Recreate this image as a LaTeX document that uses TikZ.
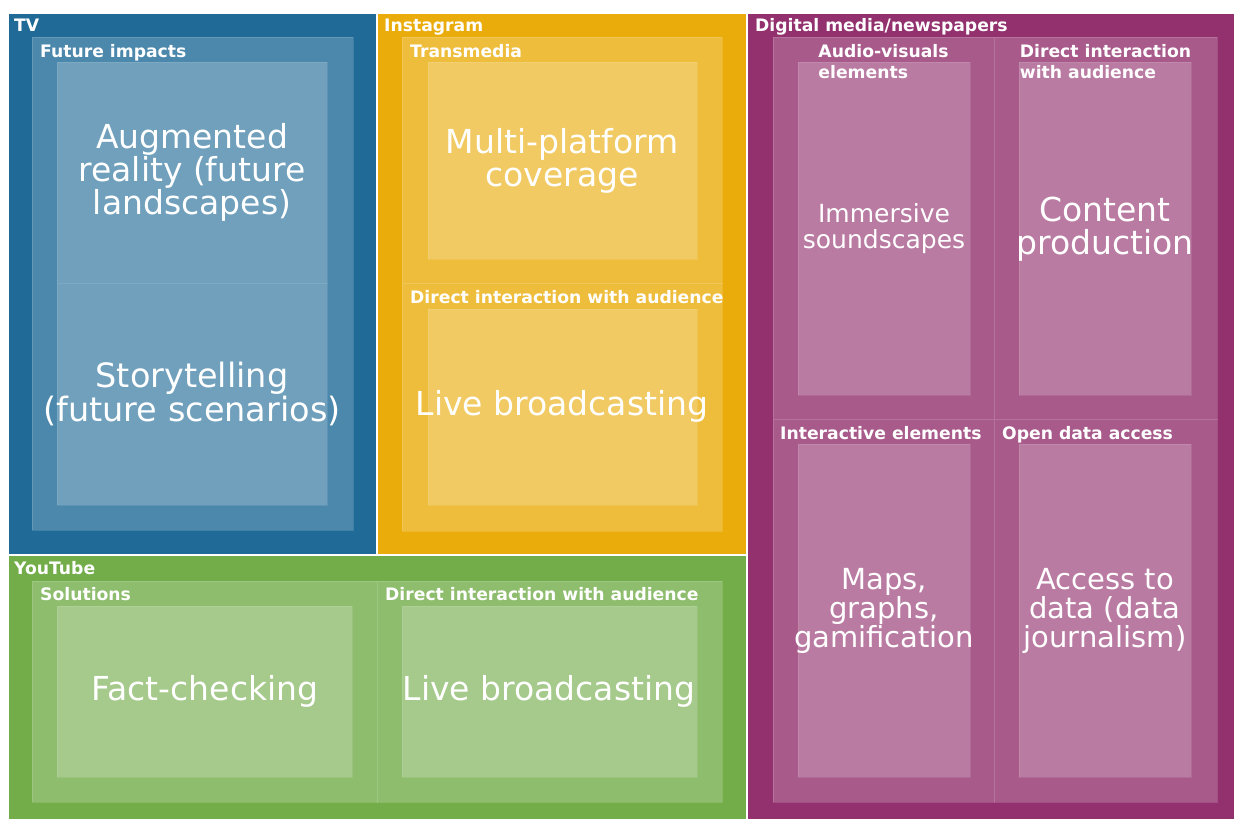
\documentclass[tikz,border=0pt]{standalone}
\usepackage{fontspec}
\setmainfont{DejaVu Sans}
\usepackage{xcolor}
\definecolor{tvblue}{HTML}{1F6A96}
\definecolor{instayel}{HTML}{EAAC0B}
\definecolor{ytgreen}{HTML}{72AD4A}
\definecolor{digmag}{HTML}{92316E}
\tikzstyle{topbox}=[draw=white, line width=1.2pt]
\tikzstyle{midbox}=[draw=white, draw opacity=.15, line width=.8pt]
\tikzstyle{leafbox}=[draw=white, draw opacity=.1, line width=.8pt]
\tikzstyle{head}=[anchor=base west, inner sep=0pt, text=white, font=\bfseries\fontsize{17.2}{21}\selectfont]
\tikzstyle{leaflab}=[inner sep=0pt, text=white, align=center]
\newcommand{\tmrect}[3]{
 \fill[#1] #2 rectangle #3;
}
\newcommand{\labsize}[1]{\fontsize{#1}{#1}\selectfont}

\begin{document}
\begin{tikzpicture}[x=1pt, y=-1pt]
 \useasboundingbox (0,0) rectangle (1234,819);
 \fill[white] (0,0) rectangle (1234,819);
%
 \tmrect{tvblue, topbox}{(8,13)}{(377,555)}
 \tmrect{instayel, topbox}{(377,13)}{(747,555)}
 \tmrect{ytgreen, topbox}{(8,555)}{(747,820)}
 \tmrect{digmag, topbox}{(747,13)}{(1235,820)}
%
 \tmrect{tvblue!80!white, midbox}{(32,37)}{(353,530)}
 \tmrect{tvblue!64!white, leafbox}{(57,62)}{(327,283)}
 \tmrect{tvblue!64!white, leafbox}{(57,283)}{(327,505)}
%
 \tmrect{instayel!80!white, midbox}{(402,37)}{(722,283)}
 \tmrect{instayel!80!white, midbox}{(402,283)}{(722,531)}
 \tmrect{instayel!64!white, leafbox}{(428,62)}{(697,259)}
 \tmrect{instayel!64!white, leafbox}{(428,309)}{(697,505)}
%
 \tmrect{ytgreen!80!white, midbox}{(32,581)}{(377,802)}
 \tmrect{ytgreen!80!white, midbox}{(377,581)}{(722,802)}
 \tmrect{ytgreen!64!white, leafbox}{(57,606)}{(352,777)}
 \tmrect{ytgreen!64!white, leafbox}{(402,606)}{(697,777)}
%
 \tmrect{digmag!80!white, midbox}{(773,37)}{(994,419)}
 \tmrect{digmag!80!white, midbox}{(994,37)}{(1217,419)}
 \tmrect{digmag!80!white, midbox}{(773,419)}{(994,802)}
 \tmrect{digmag!80!white, midbox}{(994,419)}{(1217,802)}
 \tmrect{digmag!64!white, leafbox}{(798,62)}{(970,395)}
 \tmrect{digmag!64!white, leafbox}{(1019,62)}{(1191,395)}
 \tmrect{digmag!64!white, leafbox}{(798,444)}{(970,777)}
 \tmrect{digmag!64!white, leafbox}{(1019,444)}{(1191,777)}
%
 \node[head] (tv) at (14,31) {TV};
 \node[head] (futimp) at (40,57) {Future impacts};
 \node[head] (insta) at (384,31) {Instagram};
 \node[head] (transm) at (410,57) {Transmedia};
 \node[head] (igdirect) at (410,303) {Direct interaction with audience};
 \node[head] (yt) at (14,574) {YouTube};
 \node[head] (solut) at (40,600) {Solutions};
 \node[head] (ytdirect) at (385,600) {Direct interaction with audience};
 \node[head] (digital) at (755,31) {Digital media/newspapers};
 \node[head, anchor=north, align=left] (audvis) at (883.5,44) {Audio-visuals\\elements};
 \node[head, anchor=north, align=left] (dmdirect) at (1105.5,44) {Direct interaction\\with audience};
 \node[head] (interact) at (780,439) {Interactive elements};
 \node[head] (opendata) at (1002,439) {Open data access};
%
 \node[leaflab, font=\labsize{33}] (augm) at (192,172) {Augmented\\reality (future\\landscapes)};
 \node[leaflab, font=\labsize{33.5}] (story) at (192,394) {Storytelling\\(future scenarios)};
 \node[leaflab, font=\labsize{33}] (multi) at (562,161) {Multi-platform\\coverage};
 \node[leaflab, font=\labsize{33}] (iglive) at (562,406) {Live broadcasting};
 \node[leaflab, font=\labsize{33}] (factch) at (205,691) {Fact-checking};
 \node[leaflab, font=\labsize{33}] (ytlive) at (549,691) {Live broadcasting};
 \node[leaflab, font=\fontsize{25}{26}\selectfont] (immers) at (884,229) {Immersive\\soundscapes};
 \node[leaflab, font=\labsize{33}] (content) at (1105,229) {Content\\production};
 \node[leaflab, font=\fontsize{29}{29}\selectfont] (maps) at (884,611) {Maps,\\graphs,\\gamification};
 \node[leaflab, font=\fontsize{29}{29}\selectfont] (access) at (1105,611) {Access to\\data (data\\journalism)};
\end{tikzpicture}
\end{document}
